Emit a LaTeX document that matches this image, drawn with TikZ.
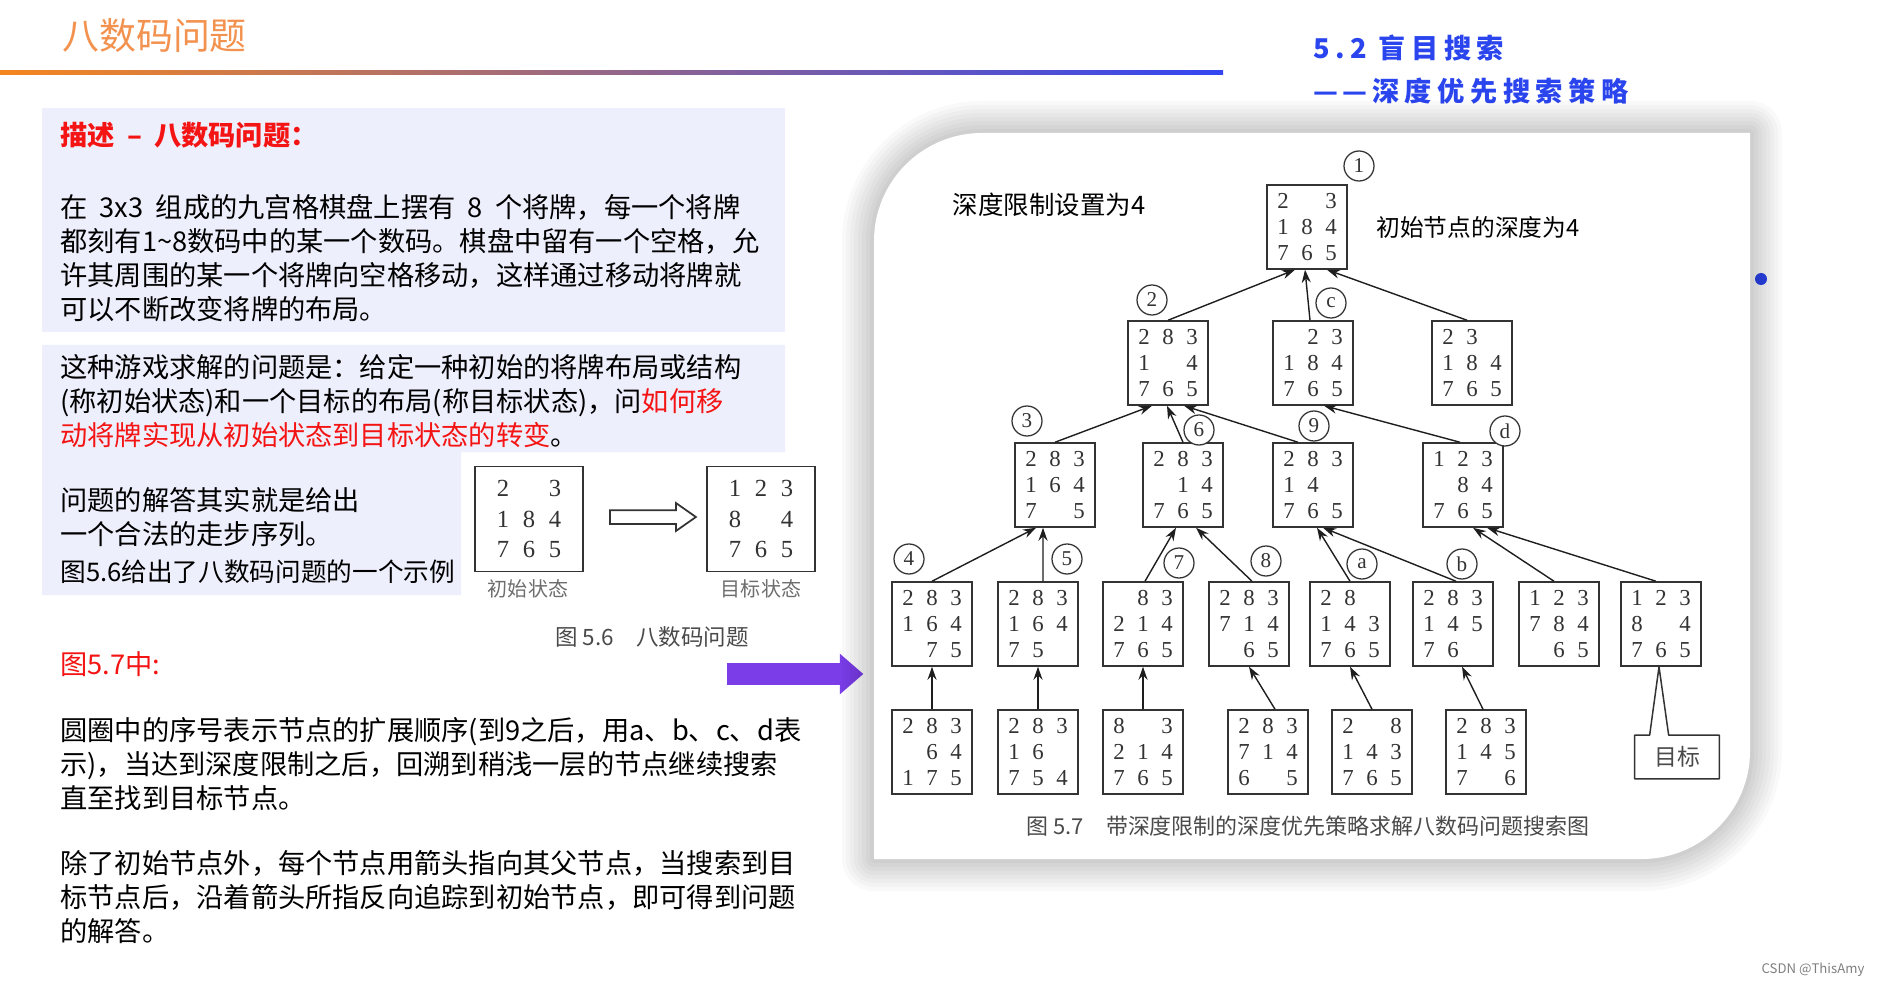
\documentclass[tikz,border=0pt]{standalone}
\usepackage{fontspec}
\setmainfont{Noto Sans CJK SC}
\newfontfamily\hdfont[LetterSpace=20]{Noto Sans CJK SC}
\newfontfamily\numfont{Liberation Serif}
\usepackage{xcolor}
\usetikzlibrary{arrows.meta,shapes.arrows}
\definecolor{ink}{HTML}{1E1E1E}
\definecolor{tilec}{HTML}{333333}
\definecolor{ttl}{HTML}{F3924F}
\definecolor{blueH}{HTML}{2A45EE}
\definecolor{lav}{HTML}{EEEFFC}
\definecolor{redT}{HTML}{F41414}
\definecolor{violet}{HTML}{7A3DE8}
\definecolor{capg}{HTML}{4A4A4A}
\definecolor{lineL}{HTML}{F5861F}
\definecolor{lineM}{HTML}{C97FB8}
\definecolor{lineR}{HTML}{3346F2}
\def\cw{4.8mm}
\newcommand{\gp}{\hspace{0.45em}}
\newcommand{\dg}[1]{\makebox[\cw]{#1}}
\newcommand{\pz}[9]{\dg{#1}\dg{#2}\dg{#3}\\\dg{#4}\dg{#5}\dg{#6}\\\dg{#7}\dg{#8}\dg{#9}}
\tikzset{
  tile/.style={draw=tilec, line width=0.3mm, text=tilec, minimum width=16mm, minimum height=16.8mm,
    inner sep=0pt, align=center, font=\def\cw{4.8mm}\numfont\fontsize{13}{14.8}\selectfont},
  big/.style={tile, minimum width=21.6mm, minimum height=21mm, font=\def\cw{5.2mm}\numfont\fontsize{14}{17.4}\selectfont},
  tag/.style={circle, draw=tilec, fill=white, line width=0.25mm, minimum size=6mm, inner sep=0pt,
    text=tilec, font=\numfont\fontsize{12}{12}\selectfont},
  up/.style={draw=ink, line width=0.28mm, -{Stealth[length=2.6mm,width=1.8mm]}},
  body/.style={anchor=west, align=left, inner sep=0pt, text=black, font=\fontsize{15.5}{19.35}\selectfont},
  panel/.style={fill=lav, draw=none},
  note/.style={inner sep=0pt, text=black},
}
\begin{document}
\begin{tikzpicture}[x=0.2mm,y=-0.2mm]
  \useasboundingbox (0,0) rectangle (1877,986);
  \fill[white] (0,0) rectangle (1877,986);

  % header
  \node[anchor=west, inner sep=0pt, text=ttl, font=\fontsize{21}{21}\selectfont] (ttl) at (62,36) {八数码问题};
  \shade[left color=lineL, middle color=lineM, right color=lineR] (0,71) rectangle (1223,75);
  \node[anchor=west, inner sep=0pt, text=blueH, font=\hdfont\bfseries\fontsize{15.5}{15.5}\selectfont] (h1) at (1313,48) {5.2 盲目搜索};
  \node[anchor=west, inner sep=0pt, text=blueH, font=\hdfont\bfseries\fontsize{15.5}{15.5}\selectfont] (h2) at (1313,91) {—\,—\,深度优先搜索策略};
  \fill[blueH] (1761,279) circle (1.2mm);

  % left panel
  \fill[panel] (42,108) rectangle (785,332);
  \fill[panel] (42,345) -- (785,345) -- (785,452) -- (461,452) -- (461,595) -- (42,595) -- cycle;
  \node[body, text=redT, font=\bfseries\fontsize{15.5}{19.35}\selectfont] (d0) at (60,135) {描述\gp{}–\gp{}八数码问题：};
  \node[body] (p1) at (60,258) {在\gp{}3x3\gp{}组成的九宫格棋盘上摆有\gp{}8\gp{}个将牌，每一个将牌\\
    都刻有1\textasciitilde8数码中的某一个数码。棋盘中留有一个空格，允\\
    许其周围的某一个将牌向空格移动，这样通过移动将牌就\\
    可以不断改变将牌的布局。};
  \node[body] (p2) at (60,401) {这种游戏求解的问题是：给定一种初始的将牌布局或结构\\
    (称初始状态)和一个目标的布局(称目标状态)，问{\color{redT}如何移}\\
    {\color{redT}动将牌实现从初始状态到目标状态的转变}。};
  \node[body] (p3) at (60,517) {问题的解答其实就是给出\\一个合法的走步序列。};
  \node[body, font=\fontsize{14.6}{19.35}\selectfont] (p4) at (60,572) {图5.6给出了八数码问题的一个示例};
  \node[body, text=redT] (p5) at (60,664) {图5.7中:};
  \node[body] (p6) at (60,764.5) {圆圈中的序号表示节点的扩展顺序(到9之后，用a、b、c、d表\\
    示)，当达到深度限制之后，回溯到稍浅一层的节点继续搜索\\
    直至找到目标节点。};
  \node[body] (p7) at (60,897.5) {除了初始节点外，每个节点用箭头指向其父节点，当搜索到目\\
    标节点后，沿着箭头所指反向追踪到初始节点，即可得到问题\\
    的解答。};

  % figure 5.6
  \node[big] (s0) at (529,519) {\pz{2}{}{3}{1}{8}{4}{7}{6}{5}};
  \node[big] (sg) at (761,519) {\pz{1}{2}{3}{8}{}{4}{7}{6}{5}};
  \node[single arrow, draw=tilec, fill=white, line width=0.35mm, minimum height=17.2mm, inner sep=0pt,
    inner ysep=1.2mm, single arrow head extend=1.4mm, single arrow tip angle=70] (mv) at (648,517) {};
  \node[note, text=capg!80, font=\fontsize{11.4}{11.4}\selectfont] (l0) at (528,589) {初始状态};
  \node[note, text=capg!80, font=\fontsize{11.4}{11.4}\selectfont] (lg) at (761,589) {目标状态};
  \node[note, text=capg, font=\fontsize{12.8}{12.8}\selectfont] (cap56) at (652,637) {图 5.6\quad 八数码问题};
  \node[single arrow, fill=violet, minimum height=27.2mm, inner sep=0pt, inner ysep=2.1mm,
    single arrow head extend=1.9mm, single arrow tip angle=82] (go) at (789,674) {};

  % card
  \foreach \w in {1,...,8}{
    \draw[line width=\w*1.6mm, black, opacity=0.022, line join=round] (874,859) -- (874,241)
      .. controls (874,181.4) and (922.4,133) .. (982,133) -- (1750,133) -- (1750,751)
      .. controls (1750,810.4) and (1701.6,859) .. (1642,859) -- cycle;
  }
  \fill[white] (874,859) -- (874,241) .. controls (874,181.4) and (922.4,133) .. (982,133)
    -- (1750,133) -- (1750,751) .. controls (1750,810.4) and (1701.6,859) .. (1642,859) -- cycle;

  % search tree
  \node[note, font=\fontsize{14.5}{14.5}\selectfont] (lim) at (1049,205) {深度限制设置为4};
  \node[note, font=\fontsize{13.5}{13.5}\selectfont] (dep) at (1478,227) {初始节点的深度为4};

  \node[tile] (n1) at (1307,227) {\pz{2}{}{3}{1}{8}{4}{7}{6}{5}};
  \node[tile] (n2) at (1168,363) {\pz{2}{8}{3}{1}{}{4}{7}{6}{5}};
  \node[tile] (nc) at (1313,363) {\pz{}{2}{3}{1}{8}{4}{7}{6}{5}};
  \node[tile] (ne) at (1472,363) {\pz{2}{3}{}{1}{8}{4}{7}{6}{5}};
  \node[tile] (n3) at (1055,485) {\pz{2}{8}{3}{1}{6}{4}{7}{}{5}};
  \node[tile] (n6) at (1183,485) {\pz{2}{8}{3}{}{1}{4}{7}{6}{5}};
  \node[tile] (n9) at (1313,485) {\pz{2}{8}{3}{1}{4}{}{7}{6}{5}};
  \node[tile] (nd) at (1463,485) {\pz{1}{2}{3}{}{8}{4}{7}{6}{5}};
  \node[tile] (n4) at (932,624) {\pz{2}{8}{3}{1}{6}{4}{}{7}{5}};
  \node[tile] (n5) at (1038,624) {\pz{2}{8}{3}{1}{6}{4}{7}{5}{}};
  \node[tile] (n7) at (1143,624) {\pz{}{8}{3}{2}{1}{4}{7}{6}{5}};
  \node[tile] (n8) at (1249,624) {\pz{2}{8}{3}{7}{1}{4}{}{6}{5}};
  \node[tile] (na) at (1350,624) {\pz{2}{8}{}{1}{4}{3}{7}{6}{5}};
  \node[tile] (nb) at (1453,624) {\pz{2}{8}{3}{1}{4}{5}{7}{6}{}};
  \node[tile] (nf) at (1559,624) {\pz{1}{2}{3}{7}{8}{4}{}{6}{5}};
  \node[tile] (ng) at (1661,624) {\pz{1}{2}{3}{8}{}{4}{7}{6}{5}};
  \node[tile] (m4) at (932,752) {\pz{2}{8}{3}{}{6}{4}{1}{7}{5}};
  \node[tile] (m5) at (1038,752) {\pz{2}{8}{3}{1}{6}{}{7}{5}{4}};
  \node[tile] (m7) at (1143,752) {\pz{8}{}{3}{2}{1}{4}{7}{6}{5}};
  \node[tile] (m8) at (1268,752) {\pz{2}{8}{3}{7}{1}{4}{6}{}{5}};
  \node[tile] (ma) at (1372,752) {\pz{2}{}{8}{1}{4}{3}{7}{6}{5}};
  \node[tile] (mb) at (1486,752) {\pz{2}{8}{3}{1}{4}{5}{7}{}{6}};

  \draw[up] (n2.north) -- ([xshift=-2.4mm]n1.south);
  \draw[up] ([xshift=-0.6mm]nc.north) -- ([xshift=-0.4mm]n1.south);
  \draw[up] ([xshift=-1mm]ne.north) -- ([xshift=4mm]n1.south);
  \draw[up] (n3.north) -- ([xshift=-3.2mm]n2.south);
  \draw[up] (n6.north) -- ([xshift=-0.2mm]n2.south);
  \draw[up] ([xshift=-3mm]n9.north) -- ([xshift=3.2mm]n2.south);
  \draw[up] ([xshift=-0.6mm]nd.north) -- ([xshift=2.2mm]nc.south);
  \draw[up] (n4.north) -- ([xshift=-3.8mm]n3.south);
  \draw[up] ([xshift=1mm]n5.north) -- ([xshift=-2.4mm]n3.south);
  \draw[up] ([xshift=0.4mm]n7.north) -- ([xshift=-1.4mm]n6.south);
  \draw[up] ([xshift=0.6mm]n8.north) -- ([xshift=2.6mm]n6.south);
  \draw[up] (na.north) -- ([xshift=0.8mm]n9.south);
  \draw[up] ([xshift=0.6mm]nb.north) -- ([xshift=2mm]n9.south);
  \draw[up] ([xshift=-1mm]nf.north) -- ([xshift=2mm]nd.south);
  \draw[up] ([xshift=-1mm]ng.north) -- ([xshift=4.8mm]nd.south);
  \draw[up] (m4.north) -- (n4.south);
  \draw[up] (m5.north) -- (n5.south);
  \draw[up] (m7.north) -- (n7.south);
  \draw[up] ([xshift=1.4mm]m8.north) -- (n8.south);
  \draw[up] (ma.north) -- (na.south);
  \draw[up] ([xshift=-0.6mm]mb.north) -- ([xshift=1.8mm]nb.south);

  \node[tag] (t1) at (1359,166) {1};
  \node[tag] (t2) at (1152,300) {2};
  \node[tag] (tc) at (1331,303) {c};
  \node[tag] (t3) at (1027,421) {3};
  \node[tag] (t6) at (1199,430) {6};
  \node[tag] (t9) at (1314,426) {9};
  \node[tag] (td) at (1505,431) {d};
  \node[tag] (t4) at (909,559) {4};
  \node[tag] (t5) at (1067,559) {5};
  \node[tag] (t7) at (1179,563) {7};
  \node[tag] (t8) at (1266,561) {8};
  \node[tag] (ta) at (1362,564) {a};
  \node[tag] (tb) at (1462,564) {b};

  \node[minimum width=16.8mm, minimum height=8.6mm, inner sep=0pt, text=capg,
    font=\fontsize{13}{13}\selectfont] (tgt) at (1677,757) {目标};
  \draw[tilec, line width=0.3mm, line join=round] (tgt.north west) -- ([xshift=3mm]tgt.north west)
    -- ([xshift=-0.4mm]ng.south) -- ([xshift=6.8mm]tgt.north west) -- (tgt.north east)
    -- (tgt.south east) -- (tgt.south west) -- cycle;

  \node[note, text=capg, font=\fontsize{12.5}{12.5}\selectfont] (cap57) at (1308,826) {图 5.7\quad 带深度限制的深度优先策略求解八数码问题搜索图};
  \node[note, text=gray, font=\fontsize{7.5}{7.5}\selectfont] (wm) at (1813,970) {CSDN @ThisAmy};
\end{tikzpicture}
\end{document}
